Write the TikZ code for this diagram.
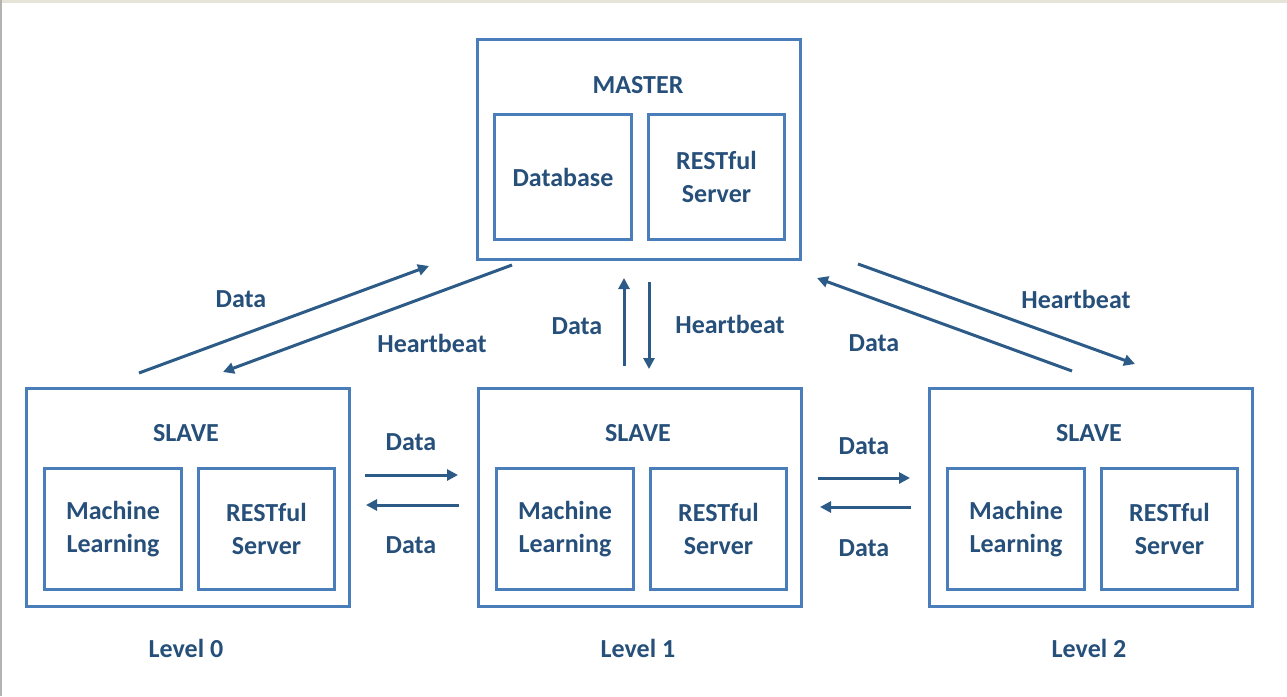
\documentclass[tikz,border=0pt]{standalone}
\usepackage{fontspec}
\setmainfont{Carlito}
\usetikzlibrary{arrows.meta}

\definecolor{boxblue}{HTML}{4A7EBB}
\definecolor{textblue}{HTML}{264F7A}
\definecolor{arrowblue}{HTML}{2C5B88}
\definecolor{edgebeige}{HTML}{E6E3D8}
\definecolor{edgegrey}{HTML}{B4B3B0}

\begin{document}
\begin{tikzpicture}[x=1pt, y=-1pt,
  every node/.style={text=textblue, font=\fontsize{26}{33}\selectfont\bfseries},
  frame/.style={draw=boxblue, line width=3pt, anchor=north west, inner sep=0pt, align=center},
  caption/.style={inner sep=0pt},
  flow/.style={draw=arrowblue, line width=3pt, -{Triangle[length=11pt, width=11pt]}},
]
\useasboundingbox (0,0) rectangle (1287,696);
\fill[white] (0,0) rectangle (1287,696);
\fill[edgebeige] (0,0) rectangle (1287,3);
\fill[edgegrey] (0,0) rectangle (2,696);

% Master with its database and REST server
\node[frame, minimum width=323pt, minimum height=220pt] (master) at (476,38) {};
\node[caption] (mastertitle) at (638,85) {MASTER};
\node[frame, minimum width=137pt, minimum height=125pt] (mdb) at (493,113) {Database};
\node[frame, minimum width=136pt, minimum height=125pt] (mrest) at (647,113) {RESTful\\Server};

% Three slaves, one per level
\foreach \i/\L in {0/25, 1/477, 2/928} {
  \node[frame, minimum width=323pt, minimum height=218pt] (slave\i) at (\L,387) {};
  \node[caption] (slavetitle\i) at (\L+161,433) {SLAVE};
  \node[frame, minimum width=137pt, minimum height=121pt] (ml\i) at (\L+18,467) {Machine\\Learning};
  \node[frame, minimum width=136pt, minimum height=121pt] (rest\i) at (\L+172,467) {RESTful\\Server};
  \node[caption] (level\i) at (\L+161,648) {Level \i};
}

% Arrow end points
\coordinate (d0s) at (139,373);  \coordinate (d0e) at (429,266);
\coordinate (h0s) at (512,265);  \coordinate (h0e) at (223,372);
\coordinate (d1s) at (624,366);  \coordinate (d1e) at (624,278);
\coordinate (h1s) at (649,282);  \coordinate (h1e) at (649,369);
\coordinate (d2s) at (1072,371); \coordinate (d2e) at (817,278);
\coordinate (h2s) at (858,264);  \coordinate (h2e) at (1135,364);
\coordinate (a01s) at (365,475); \coordinate (a01e) at (458,475);
\coordinate (b01s) at (459,505); \coordinate (b01e) at (366,505);
\coordinate (a12s) at (818,478); \coordinate (a12e) at (910,478);
\coordinate (b12s) at (911,507); \coordinate (b12e) at (820,507);

\draw[flow] (d0s) -- (d0e);
\draw[flow] (h0s) -- (h0e);
\draw[flow] (d1s) -- (d1e);
\draw[flow] (h1s) -- (h1e);
\draw[flow] (d2s) -- (d2e);
\draw[flow] (h2s) -- (h2e);
\draw[flow] (a01s) -- (a01e);
\draw[flow] (b01s) -- (b01e);
\draw[flow] (a12s) -- (a12e);
\draw[flow] (b12s) -- (b12e);

% Arrow labels
\node[caption] (ld0) at (241,299) {Data};
\node[caption] (lh0) at (432,343) {Heartbeat};
\node[caption] (ld1) at (577,326) {Data};
\node[caption] (lh1) at (730,324) {Heartbeat};
\node[caption] (ld2) at (874,343) {Data};
\node[caption] (lh2) at (1076,299) {Heartbeat};
\node[caption] (la01) at (411,442) {Data};
\node[caption] (lb01) at (411,545) {Data};
\node[caption] (la12) at (864,446) {Data};
\node[caption] (lb12) at (864,548) {Data};
\end{tikzpicture}
\end{document}
